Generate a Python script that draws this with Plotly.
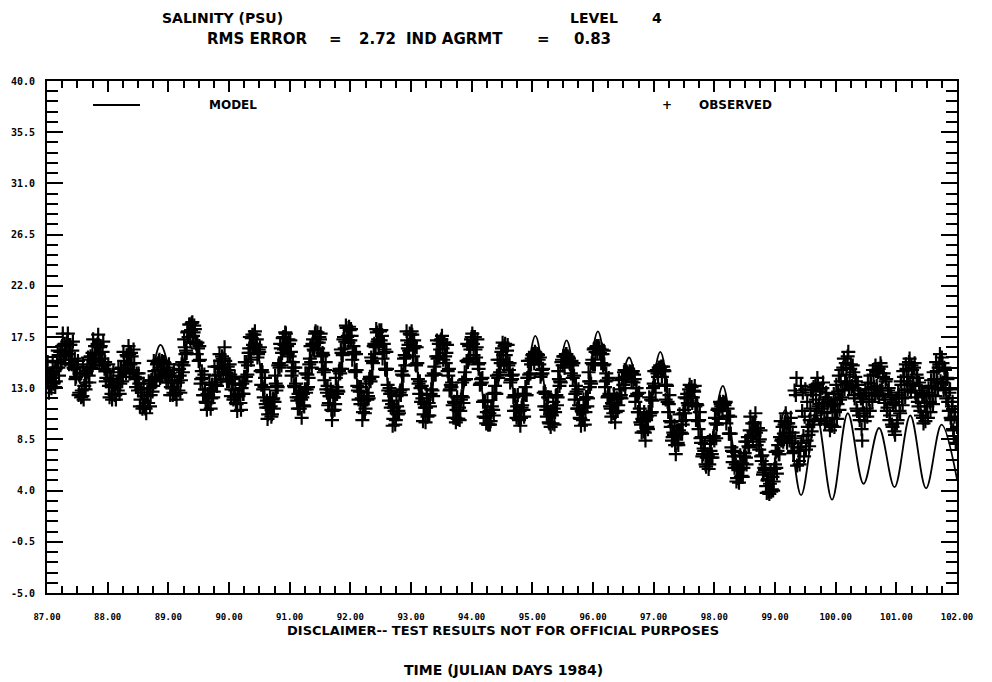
import plotly.graph_objects as go

# ---------------- data ----------------
# model: times (julian day) and salinity at tidal highs/lows
model_days = [87.0, 87.325, 87.58, 87.84, 88.10, 88.355, 88.61, 88.87, 89.13, 89.385,
              89.64, 89.90, 90.16, 90.415, 90.67, 90.93, 91.19, 91.445, 91.70, 91.96,
              92.22, 92.475, 92.73, 92.99, 93.25, 93.505, 93.76, 94.02, 94.28, 94.535,
              94.79, 95.05, 95.31, 95.565, 95.82, 96.08, 96.34, 96.595, 96.85, 97.11,
              97.37, 97.625, 97.88, 98.14, 98.40, 98.655, 98.91, 99.17, 99.43, 99.685,
              99.94, 100.20, 100.46, 100.715, 100.97, 101.23, 101.49, 101.745, 102.0]
model_salinity = [13.6, 16.2, 13.3, 16.0, 12.8, 15.4, 12.0, 16.8, 13.0, 18.2,
                  12.0, 15.0, 12.0, 17.0, 10.8, 17.0, 11.5, 17.2, 11.4, 17.8,
                  11.2, 17.6, 10.6, 17.4, 10.8, 17.0, 10.6, 17.0, 10.2, 16.6,
                  10.6, 17.6, 10.2, 17.2, 10.4, 18.0, 11.0, 15.7, 9.8, 16.2,
                  8.5, 13.0, 7.0, 13.2, 5.8, 10.0, 4.8, 11.1, 3.6, 10.6,
                  3.2, 10.8, 4.6, 9.5, 4.3, 10.6, 4.2, 9.8, 5.0]

# observed: half-hourly samples starting at day 87.0 (on the hour)
obs_start_day = 87.0
obs_step_days = 1.0 / 48.0
obs_salinity = [
    14.6, 13.5, 14.2, 13.2,
    14.3, 13.4, 14.5, 13.6, 15.3, 14.8, 15.9, 15.2, 16.7, 15.8, 16.9, 16.1, 17.1, 16.0, 16.8, 15.5, 16.3, 14.8, 15.6, 14.0, 14.9, 12.4, 14.2, 12.2,
    12.3, 12.0, 14.3, 13.5, 14.9, 14.1, 15.5, 14.8, 16.1, 15.4, 16.7, 15.9, 16.9, 16.0, 16.6, 15.6, 16.2, 15.0, 15.3, 13.9, 14.5, 13.2, 13.8, 12.5, 13.1,
    13.3, 12.4, 13.5, 12.8, 14.1, 13.4, 14.8, 14.0, 15.4, 14.7, 15.9, 15.0, 16.0, 15.1, 15.8, 14.6, 15.2, 13.8, 14.3, 12.8, 13.4, 12.0, 12.6, 11.4, 12.3,
    11.2, 12.4, 11.7, 13.0, 12.4, 13.7, 13.2, 14.5, 14.0, 15.1, 14.6, 15.5, 14.8, 15.4, 14.6, 15.2, 14.1, 14.8, 13.5, 14.3, 13.1, 13.7, 12.6, 13.5, 12.5,
    13.5, 12.8, 14.1, 13.7, 15.3, 15.0, 16.6, 16.3, 17.9, 17.5, 18.6, 18.1, 18.8, 17.9, 18.2, 16.9, 17.0, 15.4, 15.5, 13.8, 13.9, 12.4, 12.9, 11.7,
    12.5, 11.7, 12.8, 12.1, 13.3, 12.7, 14.1, 13.5, 14.9, 14.2, 15.4, 14.7, 15.6, 14.8, 15.4, 14.3, 14.9, 13.6, 14.2, 12.9, 13.4, 12.2, 12.8, 11.6, 12.4,
    12.5, 11.7, 13.0, 12.5, 14.0, 13.6, 15.3, 15.0, 16.5, 16.1, 17.4, 16.8, 17.7, 16.8, 17.3, 16.0, 16.2, 14.5, 14.6, 12.9, 13.1, 11.6, 11.9, 10.7, 11.3,
    11.4, 10.7, 12.1, 11.8, 13.4, 13.2, 15.0, 14.8, 16.5, 16.1, 17.5, 16.8, 17.8, 16.7, 17.3, 15.8, 16.2, 14.5, 14.8, 13.1, 13.4, 11.9, 12.5, 11.2, 12.0,
    12.2, 11.5, 12.9, 12.6, 14.2, 13.9, 15.6, 15.3, 16.9, 16.4, 17.8, 17.0, 17.9, 17.0, 17.3, 15.8, 16.1, 14.4, 14.6, 12.9, 13.2, 11.7, 12.3, 11.1,
    11.0, 12.2, 11.6, 13.1, 12.8, 14.5, 14.3, 16.1, 15.9, 17.5, 17.1, 18.3, 17.6, 18.4, 17.2, 17.6, 16.0, 16.2, 14.4, 14.6, 12.8, 13.1, 11.6, 12.1, 10.9,
    11.9, 11.2, 12.6, 12.3, 13.8, 13.6, 15.4, 15.2, 16.9, 16.6, 17.9, 17.3, 18.1, 17.2, 17.6, 16.1, 16.4, 14.6, 14.7, 12.8, 13.0, 11.3, 11.6, 10.3, 11.0,
    10.2, 11.4, 11.0, 12.6, 12.4, 14.2, 14.1, 15.9, 15.7, 17.2, 16.8, 17.8, 17.0, 17.7, 16.5, 16.7, 15.0, 15.2, 13.4, 13.6, 11.8, 12.1, 10.7, 11.3,
    11.3, 10.5, 11.7, 11.4, 12.9, 12.8, 14.3, 14.2, 15.8, 15.6, 16.9, 16.4, 17.3, 16.5, 17.0, 15.8, 16.1, 14.5, 14.7, 12.9, 13.1, 11.5, 11.8, 10.4, 11.1,
    10.3, 11.3, 11.0, 12.3, 12.2, 13.7, 13.8, 15.4, 15.3, 16.7, 16.4, 17.5, 16.9, 17.5, 16.4, 16.6, 15.1, 15.2, 13.4, 13.5, 11.8, 11.9, 10.4, 10.9, 9.8,
    10.8, 10.1, 11.4, 11.1, 12.6, 12.5, 14.1, 13.9, 15.5, 15.2, 16.5, 15.9, 16.7, 15.9, 16.3, 15.0, 15.2, 13.7, 13.8, 12.2, 12.4, 11.0, 11.4, 10.3, 11.0,
    10.4, 11.5, 11.1, 12.5, 12.4, 13.9, 13.9, 15.4, 15.1, 15.9, 15.6, 16.2, 15.8, 16.0, 15.5, 15.7, 14.2, 14.3, 12.6, 12.7, 11.1, 11.4, 10.0, 10.7,
    10.7, 9.9, 11.2, 10.9, 12.4, 12.2, 13.8, 13.6, 15.3, 15.0, 15.8, 15.8, 16.0, 15.8, 15.6, 15.1, 15.4, 13.9, 14.1, 12.5, 12.7, 11.2, 11.5, 10.3, 11.0,
    10.2, 11.3, 10.9, 12.2, 12.1, 13.6, 13.6, 15.2, 15.1, 16.5, 16.2, 16.7, 16.6, 16.5, 16.0, 16.4, 15.0, 15.1, 13.6, 13.7, 12.3, 12.5, 11.2, 11.7, 10.8,
    11.7, 10.9, 12.1, 11.5, 12.9, 12.4, 13.8, 13.3, 14.6, 14.0, 14.4, 14.2, 14.5, 14.4, 14.3, 13.5, 13.8, 12.3, 12.5, 10.9, 11.2, 9.8, 10.3, 9.2,
    9.1, 10.2, 9.6, 10.9, 10.6, 12.0, 11.9, 13.4, 13.2, 14.5, 14.3, 14.8, 14.8, 14.9, 14.5, 14.6, 13.3, 13.3, 11.8, 11.6, 10.1, 10.0, 8.7, 8.9, 8.0,
    8.9, 8.2, 9.3, 9.0, 10.1, 9.8, 11.1, 10.8, 12.1, 11.7, 12.9, 12.2, 13.1, 12.2, 12.7, 11.4, 11.6, 10.1, 10.2, 8.6, 8.7, 7.2, 7.5, 6.3, 6.9,
    7.0, 6.3, 7.5, 7.2, 8.6, 8.4, 9.9, 9.8, 11.2, 11.0, 11.6, 11.6, 11.8, 11.5, 11.8, 10.5, 10.6, 9.0, 9.0, 7.5, 7.4, 6.0, 6.3, 5.1, 5.8,
    5.9, 5.2, 6.4, 6.0, 7.3, 6.9, 8.3, 7.9, 9.3, 8.8, 9.9, 9.2, 10.0, 9.1, 9.5, 8.3, 8.5, 7.0, 7.1, 5.6, 5.8, 4.4, 4.9, 3.9,
    4.6, 3.9, 5.2, 4.8, 6.3, 6.0, 7.5, 7.2, 8.7, 8.4, 9.6, 9.0, 10.0, 9.1, 9.9, 8.8, 9.6, 8.2, 9.1, 7.5, 8.6, 13.9, 7.8, 6.6, 7.5,
    8.2, 12.6, 7.0, 12.9, 8.4, 9.6, 7.9, 11.2, 9.2, 12.4, 10.1, 13.3, 11.0, 13.4, 11.6, 12.9, 11.2, 13.5, 10.8, 12.2, 10.1, 11.8, 9.8, 11.4, 9.7,
    11.5, 9.6, 12.0, 10.3, 12.7, 11.1, 13.6, 12.2, 14.8, 12.9, 15.2, 13.4, 16.2, 13.6, 15.1, 13.2, 14.4, 12.1, 13.6, 11.0, 12.8, 10.2, 12.1, 8.4,
    12.3, 10.1, 12.6, 10.5, 12.9, 11.0, 13.4, 11.8, 14.2, 12.4, 14.5, 12.6, 14.7, 12.8, 14.9, 12.5, 14.3, 12.0, 13.8, 11.3, 13.0, 10.6, 12.2, 9.6, 11.8,
    8.9, 12.1, 10.2, 12.4, 10.8, 13.3, 11.5, 14.0, 12.2, 14.7, 12.9, 15.3, 13.4, 15.0, 13.2, 14.8, 12.6, 14.2, 11.8, 13.5, 11.0, 12.8, 10.4, 12.3, 10.1,
    12.3, 10.4, 12.6, 10.9, 13.2, 11.6, 13.8, 12.3, 14.5, 12.9, 15.1, 13.6, 15.7, 13.5, 14.8, 12.9, 13.9, 11.8, 12.6, 10.4, 11.4, 9.3, 10.5, 8.2, 9.6,
]
# observed: second gauge reading of each half hour (at quarter past / quarter to)
obs_salinity_b = [
    15.3, 12.6, 14.3, 13.0, 15.4, 13.5, 13.1, 14.8, 16.3, 14.1, 16.2, 15.2, 17.8, 15.9, 15.5, 16.9, 17.8, 15.1, 16.8, 15.1,
    17.1, 14.7, 13.8, 14.8, 15.4, 12.6, 14.3, 12.8, 15.1, 13.2, 12.9, 14.5, 15.7, 13.5, 15.8, 14.7, 17.3, 15.6, 15.3, 16.7,
    17.7, 15.0, 16.7, 15.1, 17.1, 14.7, 13.6, 14.5, 15.1, 12.2, 13.8, 12.0, 14.4, 12.4, 12.0, 13.5, 14.7, 12.5, 14.7, 13.6,
    16.2, 14.6, 14.3, 15.8, 16.7, 14.3, 16.1, 14.4, 16.4, 14.0, 13.1, 13.9, 14.3, 11.4, 12.9, 11.2, 13.4, 11.3, 10.8, 12.4,
    13.6, 11.4, 13.7, 12.7, 15.4, 13.8, 13.6, 15.2, 15.4, 13.9, 15.2, 14.2, 15.3, 14.2, 13.5, 14.5, 15.1, 12.4, 14.0, 12.4,
    14.6, 12.5, 12.0, 13.5, 14.7, 12.6, 15.1, 14.4, 17.3, 16.0, 16.1, 18.0, 18.6, 17.1, 18.7, 17.6, 18.5, 17.1, 16.0, 16.5,
    16.7, 13.4, 14.5, 12.4, 14.2, 11.8, 11.1, 12.4, 13.5, 11.2, 13.3, 12.2, 14.9, 13.3, 13.2, 14.9, 16.0, 13.8, 15.8, 14.4,
    16.6, 14.4, 13.6, 14.6, 15.1, 12.3, 13.8, 12.0, 14.0, 11.7, 11.0, 12.3, 13.3, 11.1, 13.4, 12.5, 15.3, 14.0, 14.2, 16.1,
    17.5, 15.5, 17.7, 16.5, 18.0, 16.6, 15.7, 16.4, 16.6, 13.3, 14.4, 12.2, 13.9, 11.3, 10.3, 11.3, 12.2, 10.5, 12.0, 11.2,
    14.1, 12.8, 13.1, 15.2, 16.9, 15.0, 17.4, 16.4, 17.9, 16.8, 16.0, 16.9, 17.2, 14.1, 15.3, 13.2, 14.8, 12.2, 11.2, 12.2,
    12.8, 10.4, 12.5, 11.4, 14.3, 12.9, 13.1, 15.1, 16.7, 14.8, 17.3, 16.3, 18.0, 17.0, 16.5, 17.5, 17.8, 14.7, 15.9, 13.7,
    15.3, 12.6, 11.5, 12.3, 12.9, 10.2, 12.2, 11.1, 13.9, 12.5, 12.7, 14.7, 16.4, 14.7, 17.3, 16.5, 18.5, 17.5, 17.0, 18.1,
    18.2, 15.5, 16.7, 14.5, 16.0, 13.2, 12.0, 12.7, 13.1, 10.2, 12.0, 10.8, 13.4, 12.0, 12.1, 14.0, 15.7, 14.0, 16.7, 16.0,
    18.2, 17.1, 16.7, 18.0, 18.1, 15.6, 16.9, 14.7, 16.2, 13.3, 11.9, 12.5, 12.7, 9.7, 11.3, 9.8, 12.3, 10.7, 10.8, 12.8,
    14.5, 12.9, 15.6, 15.0, 18.0, 16.5, 16.3, 17.7, 18.0, 15.8, 17.2, 15.1, 16.6, 13.8, 12.5, 13.0, 13.2, 10.1, 11.6, 10.0,
    12.4, 10.6, 10.6, 12.5, 14.1, 12.3, 14.9, 14.2, 17.2, 15.8, 15.7, 17.2, 17.6, 15.5, 17.0, 15.2, 16.8, 14.1, 12.8, 13.3,
    13.5, 10.4, 11.7, 10.0, 12.2, 10.3, 10.2, 12.0, 13.5, 11.7, 14.4, 13.8, 16.9, 15.5, 15.6, 17.3, 17.8, 15.9, 17.5, 15.7,
    17.3, 14.7, 13.3, 13.8, 13.9, 10.5, 11.8, 9.9, 11.9, 9.8, 9.8, 11.1, 12.5, 10.6, 13.2, 12.5, 15.5, 14.2, 14.4, 16.2,
    17.0, 15.0, 16.9, 15.3, 16.8, 14.6, 13.5, 14.1, 14.2, 11.0, 12.3, 10.4, 12.4, 10.2, 9.7, 11.3, 12.5, 10.5, 13.1, 12.4,
    15.4, 14.2, 14.3, 15.6, 16.0, 15.2, 16.1, 15.7, 15.9, 15.1, 14.0, 14.6, 14.7, 11.4, 12.5, 10.5, 12.2, 9.9, 9.6, 10.6,
    11.8, 9.8, 12.3, 11.5, 14.5, 13.2, 13.5, 15.5, 15.8, 14.8, 16.0, 15.5, 15.7, 15.2, 14.3, 15.0, 15.2, 12.0, 13.2, 11.2,
    12.9, 10.4, 9.7, 10.9, 12.0, 9.8, 12.2, 11.4, 14.4, 13.1, 13.4, 15.5, 16.4, 15.1, 16.6, 16.1, 16.7, 16.1, 15.2, 16.0,
    16.3, 13.1, 14.3, 12.2, 13.9, 11.4, 10.5, 11.6, 12.5, 10.0, 12.1, 11.0, 13.7, 12.2, 12.1, 13.9, 14.4, 13.0, 14.5, 14.1,
    14.3, 14.4, 13.6, 14.5, 14.2, 11.8, 13.0, 10.9, 12.6, 10.0, 9.1, 10.1, 10.9, 8.4, 10.5, 9.4, 12.2, 10.8, 10.9, 13.0,
    14.5, 12.6, 14.6, 14.0, 14.8, 14.6, 14.0, 14.9, 14.5, 12.0, 13.2, 10.9, 12.4, 9.6, 8.4, 9.1, 9.7, 7.2, 9.2, 8.0,
    10.7, 9.1, 9.0, 10.8, 12.2, 10.2, 12.5, 11.5, 13.3, 12.2, 11.7, 12.8, 13.2, 10.2, 11.5, 9.4, 10.9, 8.2, 7.0, 7.7,
    8.1, 6.1, 7.2, 5.9, 8.4, 6.9, 6.9, 8.8, 10.4, 8.6, 11.1, 10.3, 11.8, 11.4, 11.0, 11.6, 11.7, 9.9, 11.2, 9.0,
    10.5, 7.8, 6.5, 7.0, 7.4, 4.8, 6.1, 4.7, 7.1, 5.3, 5.2, 7.0, 8.3, 6.3, 8.7, 7.8, 10.5, 8.9, 8.6, 9.9,
    10.8, 8.0, 9.5, 7.6, 9.3, 6.6, 5.4, 6.0, 6.3, 3.8, 5.0, 3.7, 5.8, 4.1, 4.0, 5.9, 7.4, 5.5, 8.0, 7.2,
    10.1, 8.5, 8.3, 9.8, 10.8, 8.2, 9.9, 8.4, 10.4, 8.2, 7.3, 12.8, 12.4, 6.2, 7.8, 6.3, 13.2, 11.0, 8.8, 10.5,
    7.6, 11.8, 8.9, 10.2, 12.8, 9.8, 13.1, 10.6, 12.0, 13.9, 11.4, 12.7, 10.3, 13.0, 11.7, 9.9, 12.6, 10.9, 12.0, 9.3,
    11.6, 10.4, 12.5, 10.9, 13.3, 11.6, 14.1, 12.0, 14.6, 12.8, 15.6, 13.5, 14.2, 15.8, 12.9, 14.7, 13.0, 15.0, 12.4, 14.0,
    11.2, 13.3, 10.6, 12.5, 9.4, 11.8, 10.8, 12.9, 11.2, 13.5, 12.0, 14.1, 12.6, 14.6, 13.1, 15.0, 13.2, 14.4, 12.3, 15.2,
    13.0, 14.0, 11.7, 13.6, 11.0, 12.8, 10.2, 12.4, 9.8, 11.6, 9.2, 11.5, 9.9, 12.6, 11.0, 13.6, 12.1, 14.5, 12.8, 15.1,
    13.6, 14.0, 15.6, 12.7, 14.6, 13.3, 15.2, 12.2, 13.9, 11.4, 13.2, 10.6, 12.5, 9.9, 11.7, 10.9, 11.4, 13.0, 11.8, 13.7,
    12.4, 14.4, 13.0, 15.3, 13.5, 14.8, 16.0, 13.4, 15.2, 12.8, 14.6, 12.1, 13.8, 11.0, 12.9, 10.2, 11.8, 8.8, 10.9, 8.1,
]
obs_days = [obs_start_day + i * obs_step_days for i in range(len(obs_salinity))]
obs_days_b = [obs_start_day + (i + 0.5) * obs_step_days for i in range(len(obs_salinity_b))]

x_ticks = list(range(87, 103))
x_tick_labels = ["%.2f" % v for v in x_ticks]
y_ticks = [-5.0, -0.5, 4.0, 8.5, 13.0, 17.5, 22.0, 26.5, 31.0, 35.5, 40.0]
y_tick_labels = ["-5.0", "-0.5", "4.0", "8.5", "13.0", "17.5", "22.0", "26.5", "31.0", "35.5", "40.0"]

title_line_1 = [("SALINITY (PSU)", 160), ("LEVEL", 568), ("4", 650)]
title_line_2 = [("RMS ERROR", 205), ("=", 327), ("2.72", 357), ("IND AGRMT", 404), ("=", 535), ("0.83", 572)]
disclaimer = "DISCLAIMER-- TEST RESULTS NOT FOR OFFICIAL PURPOSES"
x_title = "TIME (JULIAN DAYS 1984)"

# ---------------- layout geometry (page pixels) ----------------
PAGE_OFF = 8                       # default body margin of the html page
W, H = 992 - PAGE_OFF, 682 - PAGE_OFF
L, R, T, B = 47, 957, 81, 593      # plot area in page pixels


def px(x):
    return (x - L) / (R - L)


def py(y):
    return (B - y) / (B - T)


TXT1 = dict(family="DejaVu Sans", size=14, color="black")
TXT = dict(family="DejaVu Sans", size=15, color="black")
LEG = dict(family="DejaVu Sans", size=12, color="black")
CROSS = dict(symbol="cross-thin", size=10, color="black", line=dict(color="black", width=2.2))

fig = go.Figure()
fig.add_trace(go.Scatter(x=model_days, y=model_salinity, mode="lines",
                         line=dict(color="black", width=1.8, shape="spline", smoothing=1.0),
                         name="MODEL", showlegend=False, hoverinfo="skip"))
fig.add_trace(go.Scatter(x=obs_days, y=obs_salinity, mode="markers", marker=CROSS,
                         name="OBSERVED", showlegend=False, hoverinfo="skip"))
fig.add_trace(go.Scatter(x=obs_days_b, y=obs_salinity_b, mode="markers", marker=CROSS,
                         name="OBSERVED", showlegend=False, hoverinfo="skip"))

ann = []
for w, xl in title_line_1:
    ann.append(dict(text="<b>%s</b>" % w, x=px(xl), y=py(18), xref="paper", yref="paper",
                    xanchor="left", yanchor="middle", showarrow=False, font=TXT1))
for w, xl in title_line_2:
    ann.append(dict(text="<b>%s</b>" % w, x=px(xl), y=py(39), xref="paper", yref="paper",
                    xanchor="left", yanchor="middle", showarrow=False, font=TXT))
ann.append(dict(text="<b>MODEL</b>", x=px(207), y=py(105), xref="paper", yref="paper",
                xanchor="left", yanchor="middle", showarrow=False, font=LEG))
ann.append(dict(text="<b>+</b>", x=px(667), y=py(105), xref="paper", yref="paper",
                xanchor="center", yanchor="middle", showarrow=False, font=LEG))
ann.append(dict(text="<b>OBSERVED</b>", x=px(697), y=py(105), xref="paper", yref="paper",
                xanchor="left", yanchor="middle", showarrow=False, font=LEG))
ann.append(dict(text="<b>%s</b>" % disclaimer, x=px(503), y=py(630), xref="paper", yref="paper",
                xanchor="center", yanchor="middle", showarrow=False,
                font=dict(family="DejaVu Sans", size=13, color="black")))
ann.append(dict(text="<b>%s</b>" % x_title, x=px(503), y=py(670), xref="paper", yref="paper",
                xanchor="center", yanchor="middle", showarrow=False,
                font=dict(family="DejaVu Sans", size=14, color="black")))

fig.update_layout(
    width=W, height=H,
    margin=dict(l=L - PAGE_OFF, r=W - (R - PAGE_OFF), t=T - PAGE_OFF, b=H - (B - PAGE_OFF), pad=0),
    paper_bgcolor="white", plot_bgcolor="white",
    showlegend=False,
    annotations=ann,
    shapes=[dict(type="line", xref="paper", yref="paper", x0=px(93), x1=px(140),
                 y0=py(105), y1=py(105), line=dict(color="black", width=1.8))],
    xaxis=dict(range=[87, 102], tickmode="array", tickvals=x_ticks, ticktext=x_tick_labels,
               ticks="inside", ticklen=11, tickwidth=2, tickcolor="black", automargin=False,
               showline=True, linewidth=2, linecolor="black", mirror="ticks",
               showgrid=False, zeroline=False, ticklabelstandoff=14,
               tickfont=dict(family="DejaVu Sans Mono", size=9, color="black", weight="bold"),
               minor=dict(tickmode="linear", tick0=87, dtick=0.25, ticks="inside", ticklen=7,
                          tickwidth=2, tickcolor="black", showgrid=False)),
    yaxis=dict(range=[-5, 40], tickmode="array", tickvals=y_ticks, ticktext=y_tick_labels,
               ticks="inside", ticklen=16, tickwidth=2, tickcolor="black", automargin=False,
               showline=True, linewidth=2, linecolor="black", mirror="ticks",
               showgrid=False, zeroline=False, ticklabelstandoff=8,
               tickfont=dict(family="DejaVu Sans Mono", size=10, color="black", weight="bold"),
               minor=dict(tickmode="linear", tick0=-5, dtick=0.9, ticks="inside", ticklen=11,
                          tickwidth=2, tickcolor="black", showgrid=False)),
)

fig.write_html("out.html")
